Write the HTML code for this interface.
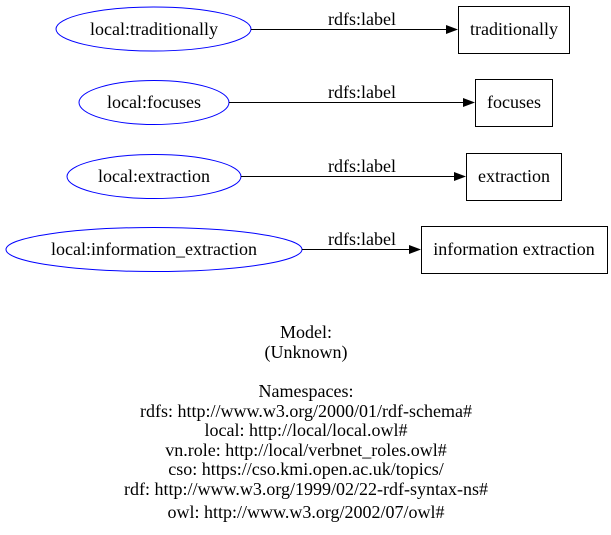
<!DOCTYPE html>
<html><head><meta charset="utf-8"><style>html,body{margin:0;padding:0;background:#fff;}svg{display:block}
text{font-family:"Liberation Serif","Times New Roman",serif;font-size:18px;}</style></head>
<body>
<svg width="611" height="535" viewBox="0 0 611 535" xmlns="http://www.w3.org/2000/svg">
<g fill="none" stroke="blue" stroke-width="1">
<ellipse cx="153.5" cy="29" rx="97.5" ry="22"/>
<ellipse cx="154" cy="102.5" rx="75" ry="22"/>
<ellipse cx="154" cy="176.5" rx="87" ry="22"/>
<ellipse cx="154" cy="249.5" rx="148" ry="22"/>
</g>
<g fill="none" stroke="#000">
<rect x="458.5" y="6.5" width="111" height="47"/>
<rect x="475.5" y="79.5" width="77" height="47"/>
<rect x="466.5" y="153.5" width="95" height="47"/>
<rect x="421.5" y="226.5" width="186" height="47"/>
<line x1="251" y1="29.5" x2="446" y2="29.5"/>
<line x1="229" y1="102.5" x2="463" y2="102.5"/>
<line x1="241" y1="176.5" x2="454" y2="176.5"/>
<line x1="302" y1="249.5" x2="409" y2="249.5"/>
</g>
<g fill="#000">
<polygon points="446,25 458,29.5 446,34"/>
<polygon points="463,98 475,102.5 463,107"/>
<polygon points="454,172 466,176.5 454,181"/>
<polygon points="409,245 421,249.5 409,254"/>
</g>
<g text-anchor="middle" fill="#000">
<text x="154" y="35">local:traditionally</text>
<text x="154" y="108">local:focuses</text>
<text x="154" y="182">local:extraction</text>
<text x="154" y="255">local:information_extraction</text>
<text x="514" y="35">traditionally</text>
<text x="514" y="108">focuses</text>
<text x="514" y="182">extraction</text>
<text x="514" y="255">information extraction</text>
<text x="362" y="25">rdfs:label</text>
<text x="362" y="98">rdfs:label</text>
<text x="362" y="172">rdfs:label</text>
<text x="362" y="245">rdfs:label</text>
<text x="306" y="338">Model:</text>
<text x="306" y="358">(Unknown)</text>
<text x="306" y="397">Namespaces:</text>
<text x="306" y="417">rdfs: http://www.w3.org/2000/01/rdf-schema#</text>
<text x="306" y="436">local: http://local/local.owl#</text>
<text x="306" y="456">vn.role: http://local/verbnet_roles.owl#</text>
<text x="306" y="475">cso: https://cso.kmi.open.ac.uk/topics/</text>
<text x="306" y="495">rdf: http://www.w3.org/1999/02/22-rdf-syntax-ns#</text>
<text x="306" y="518">owl: http://www.w3.org/2002/07/owl#</text>
</g>
</svg>
</body></html>
